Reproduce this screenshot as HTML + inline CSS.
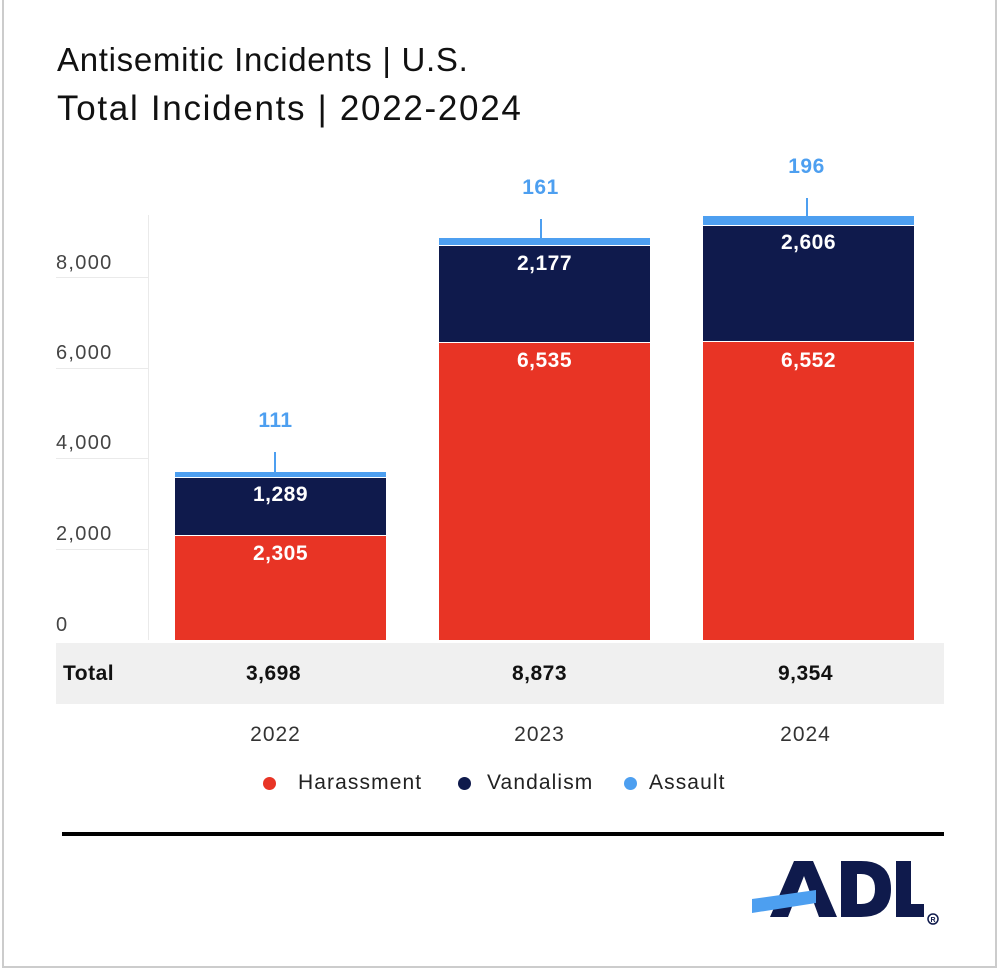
<!DOCTYPE html>
<html><head><style>
body{margin:0;width:1000px;height:972px;background:#fff;position:relative;font-family:"Liberation Sans",sans-serif;overflow:hidden}
.a{position:absolute}
.frame{left:2px;top:0;width:995px;height:968px;border-left:2px solid #ccc;border-right:2px solid #ccc;border-bottom:2px solid #ccc;box-sizing:border-box}
.t{white-space:nowrap}
.yl{color:#444;font-size:20px;left:56px;letter-spacing:1.3px}
.g{left:56px;width:92px;height:1px;background:#eaeaea}
.lbl{color:#fff;font-weight:bold;font-size:21px;text-align:center;width:211px;letter-spacing:0.5px}
.al{color:#4d9ff0;font-weight:bold;font-size:21px;text-align:center;width:211px;letter-spacing:0.5px}
.ld{width:2px;background:#4d9ff0}
.lg{font-size:21px;color:#222;letter-spacing:1.1px}
.yr{width:211px;text-align:center;font-size:21px;color:#333;letter-spacing:1px}
.tot{width:211px;text-align:center;font-size:21px;font-weight:bold;color:#111;letter-spacing:0.5px}
</style></head><body>
<div class="a frame"></div>
<div class="a t" style="left:57px;top:41px;font-size:33px;color:#111;letter-spacing:0.7px">Antisemitic Incidents | U.S.</div>
<div class="a t" style="left:57px;top:89px;font-size:35px;color:#111;letter-spacing:1.7px">Total Incidents | 2022-2024</div>

<div class="a" style="left:148px;top:215px;width:1px;height:425px;background:#eaeaea"></div>
<div class="a g" style="top:277px"></div><div class="a g" style="top:368px"></div><div class="a g" style="top:458px"></div><div class="a g" style="top:549px"></div>
<div class="a t yl" style="top:252px">8,000</div>
<div class="a t yl" style="top:342px">6,000</div>
<div class="a t yl" style="top:432px">4,000</div>
<div class="a t yl" style="top:523px">2,000</div>
<div class="a t yl" style="top:614px">0</div>

<!-- 2022 -->
<div class="a" style="left:175px;top:472px;width:211px;height:5px;background:#4d9ff0"></div>
<div class="a" style="left:175px;top:478px;width:211px;height:57px;background:#0f1a4c"></div>
<div class="a" style="left:175px;top:536px;width:211px;height:104px;background:#e83425"></div>
<div class="a ld" style="left:274px;top:452px;height:20px"></div>
<div class="a al" style="left:170px;top:409px">111</div>
<div class="a lbl" style="left:175px;top:483px">1,289</div>
<div class="a lbl" style="left:175px;top:542px">2,305</div>
<!-- 2023 -->
<div class="a" style="left:439px;top:238px;width:211px;height:7px;background:#4d9ff0"></div>
<div class="a" style="left:439px;top:246px;width:211px;height:96px;background:#0f1a4c"></div>
<div class="a" style="left:439px;top:343px;width:211px;height:297px;background:#e83425"></div>
<div class="a ld" style="left:540px;top:219px;height:19px"></div>
<div class="a al" style="left:435px;top:176px">161</div>
<div class="a lbl" style="left:439px;top:252px">2,177</div>
<div class="a lbl" style="left:439px;top:349px">6,535</div>
<!-- 2024 -->
<div class="a" style="left:703px;top:216px;width:211px;height:9px;background:#4d9ff0"></div>
<div class="a" style="left:703px;top:226px;width:211px;height:115px;background:#0f1a4c"></div>
<div class="a" style="left:703px;top:342px;width:211px;height:298px;background:#e83425"></div>
<div class="a ld" style="left:806px;top:198px;height:18px"></div>
<div class="a al" style="left:701px;top:155px">196</div>
<div class="a lbl" style="left:703px;top:231px">2,606</div>
<div class="a lbl" style="left:703px;top:349px">6,552</div>

<div class="a" style="left:56px;top:643px;width:888px;height:61px;background:#f0f0f0"></div>
<div class="a t" style="left:63px;top:662px;font-size:21px;font-weight:bold;color:#111;letter-spacing:0.5px">Total</div>
<div class="a tot" style="left:168px;top:662px">3,698</div>
<div class="a tot" style="left:434px;top:662px">8,873</div>
<div class="a tot" style="left:700px;top:662px">9,354</div>
<div class="a yr" style="left:170px;top:723px">2022</div>
<div class="a yr" style="left:434px;top:723px">2023</div>
<div class="a yr" style="left:700px;top:723px">2024</div>

<div class="a" style="left:263px;top:777px;width:13px;height:13px;border-radius:50%;background:#e83425"></div>
<div class="a t lg" style="left:298px;top:771px">Harassment</div>
<div class="a" style="left:458px;top:777px;width:13px;height:13px;border-radius:50%;background:#0f1a4c"></div>
<div class="a t lg" style="left:487px;top:771px">Vandalism</div>
<div class="a" style="left:624px;top:777px;width:13px;height:13px;border-radius:50%;background:#4d9ff0"></div>
<div class="a t lg" style="left:649px;top:771px">Assault</div>

<div class="a" style="left:62px;top:832px;width:882px;height:4px;background:#000"></div>

<svg class="a" style="left:0;top:0" width="1000" height="972">
<path d="M770 917 L794 861 L813 861 L837 917 L819 917 L804 876 L788 917 Z" fill="#0f1a4c"/>
<path d="M841 861 L861 861 Q891 861 891 889 Q891 917 861 917 L841 917 Z M857 874 L857 904 L861 904 Q875 904 875 889 Q875 874 861 874 Z" fill="#0f1a4c" fill-rule="evenodd"/>
<path d="M896 861 L911 861 L911 904 L924 904 L924 917 L896 917 Z" fill="#0f1a4c"/>
<path d="M752 899 L816 890 L816 903 L752 913 Z" fill="#4d9ff0"/>
<circle cx="933" cy="919" r="5" fill="none" stroke="#0f1a4c" stroke-width="1.5"/>
<text x="933" y="922" font-size="7" text-anchor="middle" fill="#0f1a4c" font-family="Liberation Sans" font-weight="bold">R</text>
</svg>
</body></html>
